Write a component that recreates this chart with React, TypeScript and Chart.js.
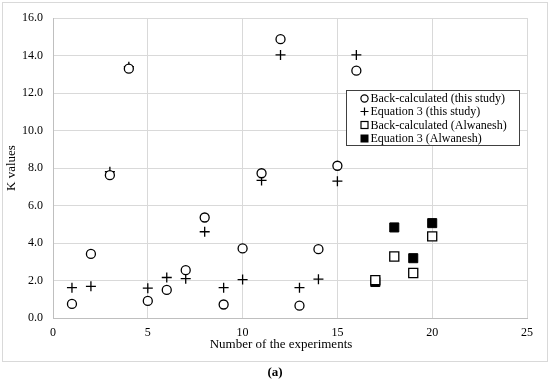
import React, { useEffect, useRef } from 'react';
import { Chart, registerables } from 'chart.js';

Chart.register(...registerables);

const experimentsThisStudy = [1, 2, 3, 4, 5, 6, 7, 8, 9, 10, 11, 12, 13, 14, 15, 16];
const backCalcThisStudy = [0.75, 3.42, 7.62, 13.3, 0.91, 1.5, 2.55, 5.36, 0.72, 3.71, 7.72, 14.87, 0.66, 3.67, 8.12, 13.19];
const eq3ThisStudy = [1.62, 1.69, 7.8, 13.4, 1.59, 2.16, 2.1, 4.6, 1.62, 2.05, 7.34, 14.03, 1.62, 2.07, 7.3, 14.03];
const experimentsAlwanesh = [17, 18, 19, 20];
const backCalcAlwanesh = [2.02, 3.28, 2.4, 4.35];
const eq3Alwanesh = [1.92, 4.83, 3.19, 5.06];

const seriesLabels = [
  'Back-calculated (this study)',
  'Equation 3 (this study)',
  'Back-calculated (Alwanesh)',
  'Equation 3 (Alwanesh)',
];
const xTitle = 'Number of the experiments';
const yTitle = 'K values';
const caption = '(a)';

const FONT = '"Liberation Serif", "Times New Roman", serif';

const toPoints = (xs: number[], ys: number[]) => xs.map((x, i) => ({ x, y: ys[i] }));

const framePlugin = {
  id: 'frame',
  beforeDraw(chart: any) {
    const ctx = chart.ctx;
    ctx.save();
    ctx.fillStyle = '#ffffff';
    ctx.fillRect(0, 0, chart.width, chart.height);
    ctx.strokeStyle = '#d9d9d9';
    ctx.lineWidth = 1;
    ctx.strokeRect(2.5, 2.5, 545, 359);
    ctx.restore();
  },
};

const textPlugin = {
  id: 'extraText',
  afterDraw(chart: any) {
    const ctx = chart.ctx;
    ctx.save();
    ctx.fillStyle = '#000';
    ctx.textAlign = 'center';
    ctx.textBaseline = 'middle';
    ctx.font = `13px ${FONT}`;
    ctx.fillText(xTitle, 281, 345);
    ctx.font = `bold 13px ${FONT}`;
    ctx.fillText(caption, 275, 373);
    ctx.restore();
  },
};

const legendPlugin = {
  id: 'customLegend',
  afterDraw(chart: any) {
    const ctx = chart.ctx;
    const bx = 346.5, by = 90.5, bw = 173, bh = 55;
    ctx.save();
    ctx.fillStyle = '#ffffff';
    ctx.fillRect(bx, by, bw, bh);
    ctx.strokeStyle = '#404040';
    ctx.lineWidth = 1;
    ctx.strokeRect(bx, by, bw, bh);
    ctx.font = `12px ${FONT}`;
    ctx.textBaseline = 'middle';
    ctx.textAlign = 'left';
    const mx = 364.5;
    const tx = 370.5;
    const ys = [98.5, 111.5, 125, 138.5];
    ys.forEach((y, i) => {
      ctx.strokeStyle = '#000';
      ctx.fillStyle = '#000';
      ctx.lineWidth = 1.2;
      if (i === 0) {
        ctx.beginPath();
        ctx.arc(mx, y, 3.6, 0, Math.PI * 2);
        ctx.stroke();
      } else if (i === 1) {
        ctx.beginPath();
        ctx.moveTo(mx - 4, y);
        ctx.lineTo(mx + 4, y);
        ctx.moveTo(mx, y - 4);
        ctx.lineTo(mx, y + 4);
        ctx.stroke();
      } else if (i === 2) {
        ctx.strokeRect(mx - 3.5, y - 3.5, 7, 7);
      } else {
        ctx.fillRect(mx - 4, y - 4, 8, 8);
      }
      ctx.fillStyle = '#000';
      ctx.fillText(seriesLabels[i], tx, y + 0.5);
    });
    ctx.restore();
  },
};

export default function App() {
  const canvasRef = useRef<HTMLCanvasElement | null>(null);

  useEffect(() => {
    document.body.style.margin = '0';
    const canvas = canvasRef.current;
    if (!canvas) return;
    const chart = new Chart(canvas, {
      type: 'scatter',
      data: {
        datasets: [
          {
            label: seriesLabels[0],
            data: toPoints(experimentsThisStudy, backCalcThisStudy),
            pointStyle: 'circle',
            pointRadius: 4.5,
            borderColor: '#000',
            backgroundColor: '#fff',
            borderWidth: 1.3,
          },
          {
            label: seriesLabels[1],
            data: toPoints(experimentsThisStudy, eq3ThisStudy),
            pointStyle: 'cross',
            pointRadius: 5,
            borderColor: '#000',
            backgroundColor: '#000',
            borderWidth: 1.3,
          },
          {
            label: seriesLabels[2],
            data: toPoints(experimentsAlwanesh, backCalcAlwanesh),
            pointStyle: 'rect',
            pointRadius: 6.4,
            borderColor: '#000',
            backgroundColor: '#fff',
            borderWidth: 1.3,
          },
          {
            label: seriesLabels[3],
            data: toPoints(experimentsAlwanesh, eq3Alwanesh),
            pointStyle: 'rect',
            pointRadius: 6.4,
            borderColor: '#000',
            backgroundColor: '#000',
            borderWidth: 1,
          },
        ],
      },
      options: {
        responsive: false,
        animation: false,
        events: [],
        layout: { padding: { top: 18, right: 23, left: 0, bottom: 0 } },
        plugins: {
          legend: { display: false },
          tooltip: { enabled: false },
          title: { display: false },
        },
        scales: {
          x: {
            type: 'linear',
            min: 0,
            max: 25,
            ticks: {
              stepSize: 5,
              color: '#000',
              font: { family: FONT, size: 12 },
              padding: 8,
              maxRotation: 0,
            },
            grid: { color: '#d9d9d9', lineWidth: 1, drawTicks: false },
            border: { color: '#bfbfbf' },
            title: { display: false },
            afterFit(scale: any) {
              scale.height = 67;
            },
          },
          y: {
            type: 'linear',
            min: 0,
            max: 16,
            ticks: {
              stepSize: 2,
              color: '#000',
              font: { family: FONT, size: 12 },
              padding: 10,
              callback: (v: any) => Number(v).toFixed(1),
            },
            grid: { color: '#d9d9d9', lineWidth: 1, drawTicks: false },
            border: { color: '#bfbfbf' },
            title: {
              display: true,
              text: yTitle,
              color: '#000',
              font: { family: FONT, size: 13 },
              padding: { top: 4, bottom: 0 },
            },
            afterFit(scale: any) {
              scale.width = 53;
            },
          },
        },
      },
      plugins: [framePlugin, legendPlugin, textPlugin],
    });
    return () => chart.destroy();
  }, []);

  return (
    <div style={{ width: 550, height: 385 }}>
      <canvas ref={canvasRef} width={550} height={385} style={{ display: 'block' }} />
    </div>
  );
}
